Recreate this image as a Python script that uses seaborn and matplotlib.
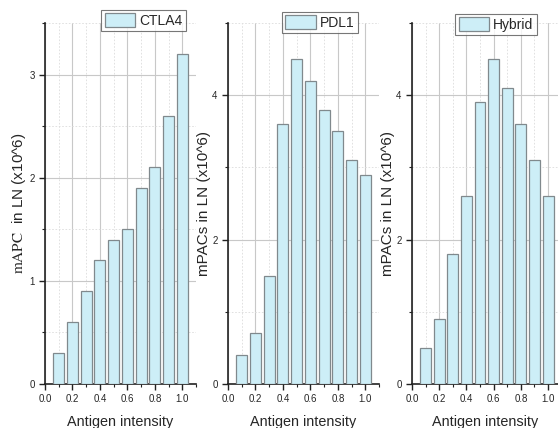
import matplotlib
matplotlib.use("Agg")
import matplotlib.pyplot as plt
import seaborn as sns
import numpy as np
from matplotlib.ticker import MultipleLocator

sns.set_style("white")
plt.rcParams['font.family'] = ['Liberation Sans', 'DejaVu Sans']
plt.rcParams['mathtext.fontset'] = 'stix'

intensity = [0.1, 0.2, 0.3, 0.4, 0.5, 0.6, 0.7, 0.8, 0.9, 1.0]
ctla4 = [0.3, 0.6, 0.9, 1.2, 1.4, 1.5, 1.9, 2.1, 2.6, 3.2]
pdl1 = [0.4, 0.7, 1.5, 3.6, 4.5, 4.2, 3.8, 3.5, 3.1, 2.9]
hybrid = [0.5, 0.9, 1.8, 2.6, 3.9, 4.5, 4.1, 3.6, 3.1, 2.6]
series_names = ["CTLA4", "PDL1", "Hybrid"]
ylabels = [r"$\mathrm{mAPC}$  in LN (x10^6)", "mPACs in LN (x10^6)", "mPACs in LN (x10^6)"]
xticks = [0.0, 0.2, 0.4, 0.6, 0.8, 1.0]

W, H = 558, 428
fig = plt.figure(figsize=(W / 100, H / 100), dpi=100)

# axes geometry in pixels: left, width, xmax
geo = [(45, 151, 1.1), (228, 151, 1.1), (412, 146, 1.073)]
ylims = [3.5, 5.0, 5.0]
ymaj = [1, 2, 2]
legend_right = [186, 358, 537]
legend_top = [10, 12, 14]
bar_color = "#cdeef7"
edge_color = "#80898d"

for i, vals in enumerate([ctla4, pdl1, hybrid]):
    left, width, xmax = geo[i]
    ax = fig.add_axes([left / W, 1 - 384 / H, width / W, (384 - 23) / H])
    sns.barplot(x=intensity, y=vals, native_scale=True, width=0.8,
                color=bar_color, edgecolor=edge_color, linewidth=0.9,
                saturation=1, ax=ax, label=series_names[i], zorder=3)
    ax.set_xlim(0, xmax)
    ax.set_ylim(0, ylims[i])
    ax.xaxis.set_major_locator(MultipleLocator(0.2))
    ax.xaxis.set_minor_locator(MultipleLocator(0.1))
    ax.yaxis.set_major_locator(MultipleLocator(ymaj[i]))
    ax.yaxis.set_minor_locator(MultipleLocator(ymaj[i] / 2))
    ax.set_xticks(xticks)
    ax.set_xticklabels([f"{t:.1f}" for t in xticks])
    ax.grid(True, which='major', color='#c8c8c8', linewidth=0.8, zorder=0)
    ax.grid(True, which='minor', color='#dcdcdc', linewidth=0.6, linestyle=(0, (2, 2)), zorder=0)
    ax.set_axisbelow(True)
    for s in ['top', 'right']:
        ax.spines[s].set_visible(False)
    for s in ['left', 'bottom']:
        ax.spines[s].set_color('#222222')
        ax.spines[s].set_linewidth(1.2)
    ax.tick_params(which='major', direction='out', length=4, width=1, color='#222222',
                   labelsize=7, bottom=True, left=True, pad=3.5)
    ax.tick_params(which='minor', direction='out', length=2.5, width=0.8, color='#222222',
                   bottom=True, left=True)
    ax.set_xlabel("Antigen intensity", fontsize=10.4, labelpad=7.5)
    ax.set_ylabel(ylabels[i], fontsize=11, labelpad=0)
    ax.yaxis.set_label_coords(-17 / width, 0.5)
    leg = ax.legend(loc='upper right',
                    bbox_to_anchor=((legend_right[i] - left) / width, 1 + (23 - legend_top[i]) / 361),
                    fontsize=10, frameon=True, fancybox=False, edgecolor='#555555',
                    borderpad=0.25, handlelength=2.2, handleheight=1.1,
                    handletextpad=0.3, borderaxespad=0)
    leg.get_frame().set_linewidth(0.8)

fig.savefig("out.png", dpi=100)
